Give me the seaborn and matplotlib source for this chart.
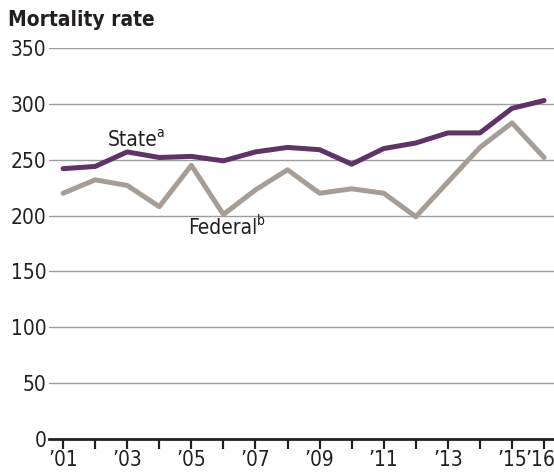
import numpy as np
import pandas as pd
import matplotlib
matplotlib.use("Agg")
import matplotlib.pyplot as plt
import seaborn as sns

# data
years = list(range(2001, 2017))
state_rate = [242, 244, 257, 252, 253, 249, 257, 261, 259, 246, 260, 265, 274, 274, 296, 303]
federal_rate = [220, 232, 227, 208, 245, 201, 223, 241, 220, 224, 220, 199, 230, 261, 283, 252]
year_labels = ["\u201901", "", "\u201903", "", "\u201905", "", "\u201907", "", "\u201909", "",
               "\u201911", "", "\u201913", "", "\u201915", "\u201916"]
y_ticks = [0, 50, 100, 150, 200, 250, 300, 350]

STATE_COLOR = '#5f3367'
FEDERAL_COLOR = '#a69d96'
TEXT_COLOR = '#231f20'

sns.set_style("white")
plt.rcParams['font.family'] = ['DejaVu Sans']
plt.rcParams['font.stretch'] = 'condensed'

df = pd.DataFrame({
    'year': years * 2,
    'rate': state_rate + federal_rate,
    'series': ['State'] * len(years) + ['Federal'] * len(years),
})

fig = plt.figure(figsize=(5.54, 4.74), dpi=100)
ax = fig.add_axes([0.0884, 0.0738, 0.9116, 0.8249])

sns.lineplot(data=df, x='year', y='rate', hue='series',
             palette={'State': STATE_COLOR, 'Federal': FEDERAL_COLOR},
             hue_order=['Federal', 'State'],
             linewidth=3.6, legend=False, ax=ax,
             solid_capstyle='round', solid_joinstyle='round')

ax.set_xlim(2001 - 0.44, 2016 + 0.31)
ax.set_ylim(0, 350)
ax.set_yticks(y_ticks)
ax.set_yticklabels([str(v) for v in y_ticks], fontsize=15)
ax.set_xticks(years)
# last label is drawn separately, nudged left so it stays inside the figure
ax.set_xticklabels(year_labels[:-1] + [""], fontsize=15)
ax.annotate(year_labels[-1], xy=(years[-1], 0), xycoords=('data', 'axes fraction'),
            xytext=(-3, -8), textcoords='offset points', fontsize=15,
            color=TEXT_COLOR, ha='center', va='top', annotation_clip=False)
ax.set_xlabel("")
ax.set_ylabel("")

for v in y_ticks[1:]:
    ax.axhline(v, color='#9d9d9d', linewidth=1.0, zorder=0)

for side in ['top', 'right', 'left']:
    ax.spines[side].set_visible(False)
ax.spines['bottom'].set_color(TEXT_COLOR)
ax.spines['bottom'].set_linewidth(2.0)
ax.spines['bottom'].set_zorder(5)

ax.tick_params(axis='y', left=False, length=0, pad=2, colors=TEXT_COLOR)
ax.tick_params(axis='x', bottom=True, direction='out', length=7, width=1.6, pad=1,
               color=TEXT_COLOR, labelcolor=TEXT_COLOR)

t_state = ax.text(2002.38, 259, "State", fontsize=15, color=TEXT_COLOR,
                  ha='left', va='bottom')
ax.annotate("a", xy=(1, 1), xycoords=t_state, xytext=(-0.5, 3),
            textcoords='offset points', fontsize=10, color=TEXT_COLOR,
            ha='left', va='top')
t_fed = ax.text(2004.9, 198, "Federal", fontsize=15, color=TEXT_COLOR,
                ha='left', va='top')
ax.annotate("b", xy=(1, 1), xycoords=t_fed, xytext=(-0.5, 3),
            textcoords='offset points', fontsize=10, color=TEXT_COLOR,
            ha='left', va='top')

fig.text(0.015, 0.958, "Mortality rate", fontsize=15, fontweight='bold',
         color=TEXT_COLOR, ha='left', va='center')

fig.savefig("out.png", dpi=100)
